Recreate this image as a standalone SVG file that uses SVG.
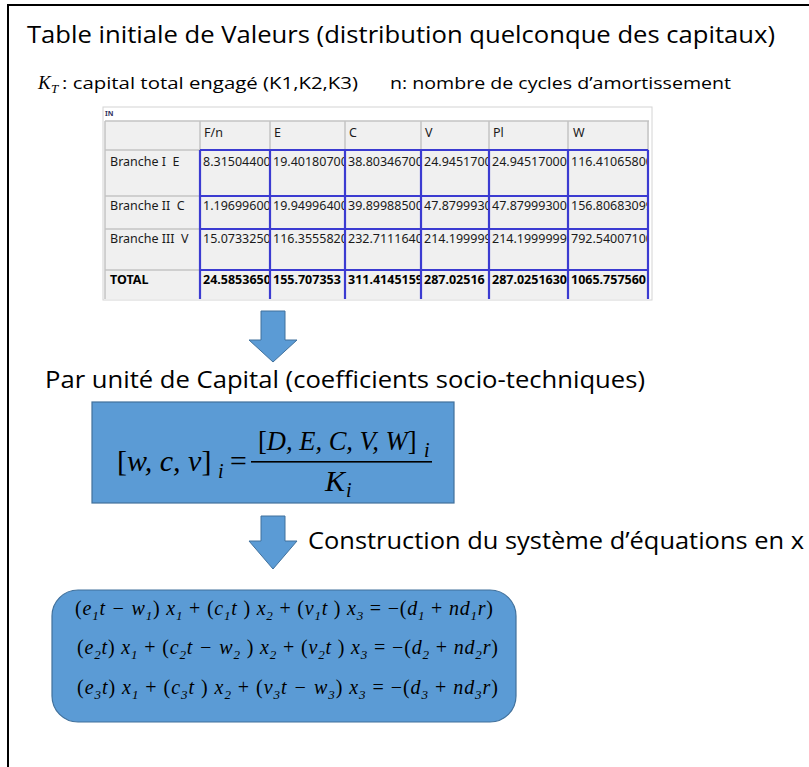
<svg xmlns="http://www.w3.org/2000/svg" width="809" height="767" viewBox="0 0 809 767">
<style>
.ttl{font-family:"Open Sans","Liberation Sans",sans-serif;font-size:24px;fill:#000}
.sub{font-family:"Open Sans","Liberation Sans",sans-serif;font-size:16px;fill:#000}
.math{font-family:"Liberation Serif","DejaVu Serif",serif;font-style:italic;fill:#000}
.tb{font-family:"Noto Sans","Open Sans",sans-serif;font-size:12.5px;fill:#1a1a1a}
.tbb{font-family:"Noto Sans","Open Sans",sans-serif;font-size:12.5px;font-weight:bold;fill:#000}
.blue{fill:#5b9bd5;stroke:#41719c;stroke-width:1.2}
.grid{stroke:#c4c4c4;stroke-width:1.5;fill:none}
.bl{stroke:#3b3bd1;stroke-width:2.2;fill:none}
.arr{fill:#5b9bd5;stroke:#41719c;stroke-width:1}
</style>
<defs>
<clipPath id="c1"><rect x="201" y="121" width="68" height="180"/></clipPath>
<clipPath id="c2"><rect x="271" y="121" width="73" height="180"/></clipPath>
<clipPath id="c3"><rect x="346" y="121" width="74" height="180"/></clipPath>
<clipPath id="c4"><rect x="422" y="121" width="66" height="180"/></clipPath>
<clipPath id="c5"><rect x="490" y="121" width="77" height="180"/></clipPath>
<clipPath id="c6"><rect x="569" y="121" width="78" height="180"/></clipPath>
</defs>
<rect x="0" y="0" width="809" height="767" fill="#fff"/>
<rect x="8" y="5" width="830" height="800" fill="none" stroke="#000" stroke-width="2"/>

<g id="title">
<text class="ttl" x="27" y="43" textLength="748" lengthAdjust="spacingAndGlyphs">Table initiale de Valeurs (distribution quelconque des capitaux)</text>
</g>
<g id="legend">
<text class="math" x="38" y="89" font-size="19">K</text>
<text class="math" x="51" y="93" font-size="13">T</text>
<text class="sub" x="62" y="89" textLength="296" lengthAdjust="spacingAndGlyphs">: capital total engagé (K1,K2,K3)</text>
<text class="sub" x="390" y="89" textLength="341" lengthAdjust="spacingAndGlyphs">n: nombre de cycles d’amortissement</text>
</g>

<g id="table">
<rect x="103" y="107" width="549" height="193" fill="#fff" stroke="#d4d4d4" stroke-width="1"/>
<text x="105" y="116" font-family="Noto Sans,sans-serif" font-size="7" font-weight="bold" fill="#303060">IN</text>
<rect x="105" y="121" width="544" height="178" fill="#f0f0f0"/>
<g class="grid">
<path d="M105 121H649M105 150H649M105 196H649M105 229H649M105 270H649"/>
<path d="M105 121V299M200 121V299M270 121V299M345 121V299M421 121V299M489 121V299M568 121V299M648 121V299"/>
</g>
<g class="bl">
<path d="M200 150H648M200 196H648M200 229H648M200 270H648"/>
<path d="M200 150V299M270 150V299M345 150V299M421 150V299M489 150V299M568 150V299M648 150V299"/>
</g>
<g class="tb">
<text x="204" y="137">F/n</text><text x="274" y="137">E</text><text x="349" y="137">C</text><text x="425" y="137">V</text><text x="493" y="137">Pl</text><text x="573" y="137">W</text>
<text x="110" y="166" xml:space="preserve">Branche I  E</text>
<text x="110" y="210" xml:space="preserve">Branche II  C</text>
<text x="110" y="243" xml:space="preserve">Branche III  V</text>
</g>
<text class="tbb" x="110" y="284">TOTAL</text>
<g class="tb">
<g clip-path="url(#c1)"><text x="203" y="166">8.315044000</text><text x="203" y="210">1.196996000</text><text x="203" y="243">15.07332500</text></g>
<g clip-path="url(#c2)"><text x="273" y="166">19.40180700</text><text x="273" y="210">19.94996400</text><text x="273" y="243">116.3555820</text></g>
<g clip-path="url(#c3)"><text x="348" y="166">38.80346700</text><text x="348" y="210">39.89988500</text><text x="348" y="243">232.7111640</text></g>
<g clip-path="url(#c4)"><text x="424" y="166">24.9451700</text><text x="424" y="210">47.8799930</text><text x="424" y="243">214.199999</text></g>
<g clip-path="url(#c5)"><text x="492" y="166">24.945170000</text><text x="492" y="210">47.879993000</text><text x="492" y="243">214.19999999</text></g>
<g clip-path="url(#c6)"><text x="571" y="166">116.41065800</text><text x="571" y="210">156.80683099</text><text x="571" y="243">792.54007100</text></g>
</g>
<g class="tbb">
<g clip-path="url(#c1)"><text x="203" y="284">24.5853650</text></g>
<g clip-path="url(#c2)"><text x="273" y="284">155.707353</text></g>
<g clip-path="url(#c3)"><text x="348" y="284">311.4145159</text></g>
<g clip-path="url(#c4)"><text x="424" y="284">287.02516</text></g>
<g clip-path="url(#c5)"><text x="492" y="284">287.0251630</text></g>
<g clip-path="url(#c6)"><text x="571" y="284">1065.757560</text></g>
</g>
</g>

<g id="connectors">
<path class="arr" d="M261 311H285V340H297L273 362L249 340H261Z"/>
<path class="arr" d="M261 516H285V541H297L273 569L249 541H261Z"/>
</g>

<g id="heading2">
<text class="ttl" x="45" y="388" textLength="600" lengthAdjust="spacingAndGlyphs">Par unité de Capital (coefficients socio-techniques)</text>
</g>

<g id="formula">
<rect class="blue" x="92" y="402" width="362" height="101"/>
<text class="math" x="117" y="471" font-size="30"><tspan font-style="normal">[</tspan>w, c, v<tspan font-style="normal">]</tspan></text>
<text class="math" x="218" y="478" font-size="20">i</text>
<text class="math" x="228" y="471" font-size="30" font-style="normal">=</text>
<text class="math" x="258" y="450" font-size="26.5"><tspan font-style="normal">[</tspan>D, E, C, V, W<tspan font-style="normal">]</tspan></text>
<text class="math" x="424" y="457" font-size="20">i</text>
<rect x="251" y="461" width="181" height="1.6" fill="#000"/>
<text class="math" x="325" y="491" font-size="30">K</text>
<text class="math" x="346" y="497" font-size="20">i</text>
</g>

<g id="heading3">
<text class="ttl" x="308" y="549" textLength="496" lengthAdjust="spacingAndGlyphs">Construction du système d’équations en x</text>
</g>

<g id="equations">
<rect class="blue" x="52" y="590" width="464" height="132" rx="26"/>
<g class="math" font-size="20">
<text x="75" y="615" textLength="418" lengthAdjust="spacing"><tspan font-style="normal">(</tspan>e<tspan font-size="13" dy="5">1</tspan><tspan dy="-5">t − w</tspan><tspan font-size="13" dy="5">1</tspan><tspan dy="-5" font-style="normal">)</tspan> x<tspan font-size="13" dy="5">1</tspan><tspan dy="-5" font-style="normal"> + (</tspan>c<tspan font-size="13" dy="5">1</tspan><tspan dy="-5">t </tspan><tspan font-style="normal">)</tspan> x<tspan font-size="13" dy="5">2</tspan><tspan dy="-5" font-style="normal">  + (</tspan>v<tspan font-size="13" dy="5">1</tspan><tspan dy="-5">t </tspan><tspan font-style="normal">)</tspan> x<tspan font-size="13" dy="5">3</tspan><tspan dy="-5" font-style="normal"> = −(</tspan>d<tspan font-size="13" dy="5">1</tspan><tspan dy="-5" font-style="normal"> + </tspan>nd<tspan font-size="13" dy="5">1</tspan><tspan dy="-5">r</tspan><tspan font-style="normal">)</tspan></text>
<text x="77" y="654" textLength="421" lengthAdjust="spacing"><tspan font-style="normal">(</tspan>e<tspan font-size="13" dy="5">2</tspan><tspan dy="-5">t</tspan><tspan font-style="normal">)</tspan> x<tspan font-size="13" dy="5">1</tspan><tspan dy="-5" font-style="normal"> + (</tspan>c<tspan font-size="13" dy="5">2</tspan><tspan dy="-5">t − w</tspan><tspan font-size="13" dy="5">2</tspan><tspan dy="-5" font-style="normal"> )</tspan> x<tspan font-size="13" dy="5">2</tspan><tspan dy="-5" font-style="normal">  + (</tspan>v<tspan font-size="13" dy="5">2</tspan><tspan dy="-5">t </tspan><tspan font-style="normal">)</tspan> x<tspan font-size="13" dy="5">3</tspan><tspan dy="-5" font-style="normal"> = −(</tspan>d<tspan font-size="13" dy="5">2</tspan><tspan dy="-5" font-style="normal"> + </tspan>nd<tspan font-size="13" dy="5">2</tspan><tspan dy="-5">r</tspan><tspan font-style="normal">)</tspan></text>
<text x="77" y="694" textLength="421" lengthAdjust="spacing"><tspan font-style="normal">(</tspan>e<tspan font-size="13" dy="5">3</tspan><tspan dy="-5">t</tspan><tspan font-style="normal">)</tspan> x<tspan font-size="13" dy="5">1</tspan><tspan dy="-5" font-style="normal"> + (</tspan>c<tspan font-size="13" dy="5">3</tspan><tspan dy="-5">t </tspan><tspan font-style="normal">)</tspan> x<tspan font-size="13" dy="5">2</tspan><tspan dy="-5" font-style="normal">  + (</tspan>v<tspan font-size="13" dy="5">3</tspan><tspan dy="-5">t − w</tspan><tspan font-size="13" dy="5">3</tspan><tspan dy="-5" font-style="normal">)</tspan> x<tspan font-size="13" dy="5">3</tspan><tspan dy="-5" font-style="normal"> = −(</tspan>d<tspan font-size="13" dy="5">3</tspan><tspan dy="-5" font-style="normal"> + </tspan>nd<tspan font-size="13" dy="5">3</tspan><tspan dy="-5">r</tspan><tspan font-style="normal">)</tspan></text>
</g>
</g>
</svg>
